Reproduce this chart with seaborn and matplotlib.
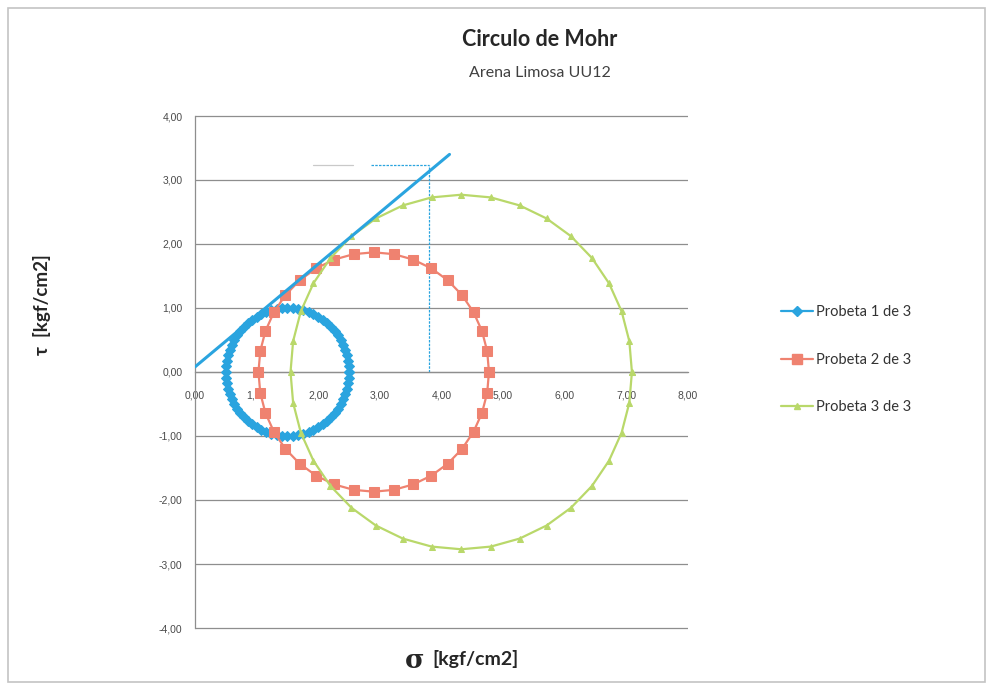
import numpy as np
import pandas as pd
import matplotlib
matplotlib.use("Agg")
import matplotlib.pyplot as plt
from matplotlib.lines import Line2D
from matplotlib.patches import Rectangle
from matplotlib.ticker import FuncFormatter, FixedLocator
import seaborn as sns

# Principal stresses of each specimen [kgf/cm2]
specimens = ["Probeta 1 de 3", "Probeta 2 de 3", "Probeta 3 de 3"]
sigma_3 = [0.50, 1.03, 1.55]
sigma_1 = [2.50, 4.77, 7.09]
angle_step = [5, 10, 10]          # degrees between plotted points on each circle

# Failure envelope (Mohr-Coulomb) end points
envelope_sigma = [0.00, 4.13]
envelope_tau = [0.08, 3.40]

# Reference construction lines
guide_sigma = 3.80
guide_tau = 3.24
guide_start = 2.85

x_ticks = [0, 1, 2, 3, 4, 5, 6, 7, 8]
y_ticks = [-4, -3, -2, -1, 0, 1, 2, 3, 4]

colors = ["#2aa4df", "#ef8270", "#b9d86a"]
markers = ["D", "s", "^"]
marker_sizes = [5.5, 7.5, 4.5]

rows = []
for name, s3, s1, step in zip(specimens, sigma_3, sigma_1, angle_step):
    c = (s1 + s3) / 2.0
    r = (s1 - s3) / 2.0
    theta = np.deg2rad(np.arange(0, 360 + step, step))
    for k, t in enumerate(theta):
        rows.append({"sigma": c + r * np.cos(t), "tau": r * np.sin(t),
                     "Probeta": name, "order": k})
df = pd.DataFrame(rows)

sns.set_theme(style="white")
plt.rcParams["font.family"] = ["Lato", "DejaVu Sans"]

fig = plt.figure(figsize=(9.9, 6.87), dpi=100)
# y range padded slightly so the -4 and 4 gridlines are fully drawn
pad = 0.03
ax_h = 512 * (8 + 2 * pad) / 8
ax = fig.add_axes([195 / 990, 1 - (628 + 64 * pad) / 687, 493 / 990, ax_h / 687])

for i, name in enumerate(specimens):
    sub = df[df["Probeta"] == name]
    sns.lineplot(data=sub, x="sigma", y="tau", sort=False, estimator=None,
                 color=colors[i], marker=markers[i], markersize=marker_sizes[i],
                 markeredgecolor=colors[i], markerfacecolor=colors[i],
                 linewidth=1.6, ax=ax, legend=False, zorder=3 + i)

# Envelope line
ax.plot(envelope_sigma, envelope_tau, color=colors[0], linewidth=2.2, zorder=8)

# Construction lines
ax.plot([1.92, 2.56], [guide_tau, guide_tau], color="#c9c9c9", linewidth=0.9, zorder=2)
ax.plot([guide_start, guide_sigma], [guide_tau, guide_tau], color=colors[0],
        linewidth=0.9, linestyle=(0, (2, 1)), zorder=2)
ax.plot([guide_sigma, guide_sigma], [0, guide_tau], color=colors[0],
        linewidth=0.9, linestyle=(0, (2, 1)), zorder=2)

ax.set_xlim(0, 8)
ax.set_ylim(-4 - pad, 4 + pad)
ax.xaxis.set_major_locator(FixedLocator(x_ticks))
ax.yaxis.set_major_locator(FixedLocator(y_ticks))
fmt = FuncFormatter(lambda v, p: f"{v:.2f}".replace(".", ","))
ax.xaxis.set_major_formatter(fmt)
ax.yaxis.set_major_formatter(fmt)

ax.grid(axis="y", color="#8e8e8e", linewidth=0.9)
ax.grid(axis="x", visible=False)
ax.set_axisbelow(True)
for s in ["top", "right"]:
    ax.spines[s].set_visible(False)
ax.spines["bottom"].set_position(("data", 0))
ax.spines["bottom"].set_color("#8e8e8e")
ax.spines["bottom"].set_linewidth(0.9)
ax.spines["left"].set_color("#8e8e8e")
ax.spines["left"].set_linewidth(0.9)
ax.spines["left"].set_bounds(-4, 4)
ax.tick_params(axis="x", length=0, pad=13, labelsize=7.5, labelcolor="#4a4a4a")
ax.tick_params(axis="y", length=0, pad=9, labelsize=7.5, labelcolor="#4a4a4a")
for lab in ax.get_xticklabels() + ax.get_yticklabels():
    lab.set_fontfamily(["Liberation Sans", "DejaVu Sans"])
ax.set_xlabel("")
ax.set_ylabel("")

# Titles
fig.text(540 / 990, 1 - 40 / 687, "Circulo de Mohr", ha="center", va="center",
         fontsize=15.5, fontweight="bold", color="#262626")
fig.text(540 / 990, 1 - 73 / 687, "Arena Limosa UU12", ha="center", va="center",
         fontsize=11.5, color="#404040")

# Axis titles
fig.text(424 / 990, 1 - 661 / 687, "σ", ha="right", va="center", fontsize=19,
         fontweight="bold", color="#262626", family=["DejaVu Serif"])
fig.text(432 / 990, 1 - 659 / 687, "[kgf/cm2]", ha="left", va="center",
         fontsize=14, fontweight="bold", color="#262626")
fig.text(42 / 990, 1 - 305 / 687, "τ  [kgf/cm2]", ha="center", va="center",
         rotation=90, fontsize=13.5, fontweight="bold", color="#262626")

# Legend
handles = [Line2D([0], [0], color=colors[i], marker=markers[i],
                  markersize=marker_sizes[i], linewidth=1.6) for i in range(3)]
leg = fig.legend(handles, specimens, loc="upper left",
                 bbox_to_anchor=(768 / 990, 1 - 292 / 687), frameon=False,
                 fontsize=10.5, labelspacing=2.3, handlelength=2.2,
                 handletextpad=0.2)
for t in leg.get_texts():
    t.set_color("#333333")

# Chart frame
fig.patches.append(Rectangle((8 / 990, 1 - 682 / 687), 977 / 990, 674 / 687,
                             transform=fig.transFigure, fill=False,
                             edgecolor="#c4c4c4", linewidth=1.2))

fig.savefig("out.png", dpi=100, facecolor="white")
